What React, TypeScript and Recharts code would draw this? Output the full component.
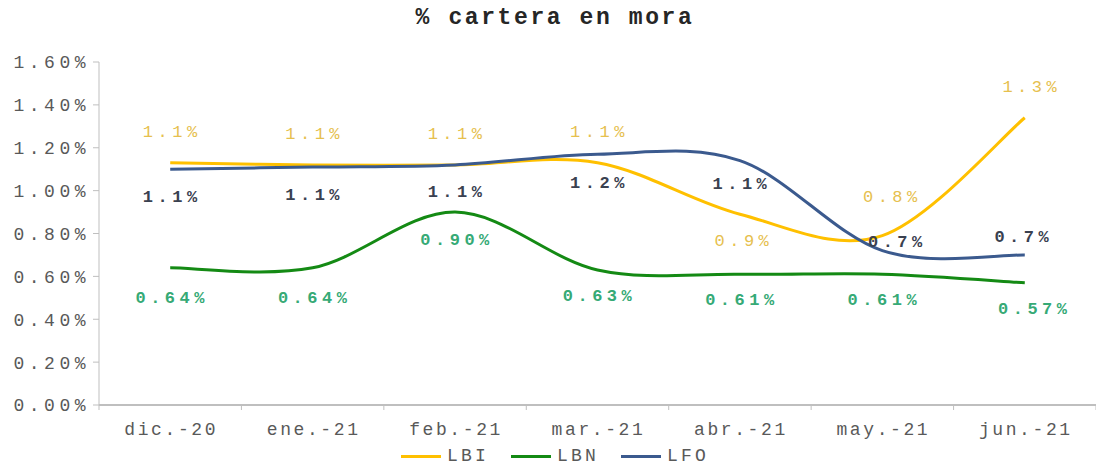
import React from 'react';
import { LineChart, Line, XAxis, YAxis, LabelList } from 'recharts';

const categories = ['dic.-20', 'ene.-21', 'feb.-21', 'mar.-21', 'abr.-21', 'may.-21', 'jun.-21'];
const lbiValues = [1.13, 1.12, 1.12, 1.13, 0.89, 0.79, 1.34];
const lbnValues = [0.64, 0.64, 0.9, 0.63, 0.61, 0.61, 0.57];
const lfoValues = [1.1, 1.11, 1.12, 1.17, 1.14, 0.72, 0.7];
const yTicks = [0, 0.2, 0.4, 0.6, 0.8, 1.0, 1.2, 1.4, 1.6];

// label placement (dx, dy) per point — style only
const lbiLabelPos = [[0, -30], [0, -30], [0, -30], [0, -30], [2, 27], [8, -38], [5, -30]];
const lfoLabelPos = [[0, 28], [0, 28], [0, 28], [0, 29], [0, 24], [13, -8], [-3, -17]];
const lbnLabelPos = [[0, 31], [0, 31], [0, 28], [0, 27], [0, 26], [0, 26], [8, 27]];

const data = categories.map((name, i) => ({
  idx: i,
  name,
  LBI: lbiValues[i],
  LBN: lbnValues[i],
  LFO: lfoValues[i],
}));

const xTicks: number[] = [];
for (let i = 0; i <= categories.length * 2; i++) xTicks.push(-0.5 + i * 0.5);

const FONT = '"Liberation Mono", "Courier New", monospace';
const AXIS_COLOR = '#BFBFBF';

// Excel-like smoothed line (Catmull-Rom style Bezier)
const excelSmooth = (context: any) => {
  let pts: number[][] = [];
  return {
    areaStart() {},
    areaEnd() {},
    lineStart() {
      pts = [];
    },
    lineEnd() {
      if (!pts.length) return;
      context.moveTo(pts[0][0], pts[0][1]);
      for (let i = 0; i < pts.length - 1; i++) {
        const p0 = pts[i - 1] || pts[i];
        const p1 = pts[i];
        const p2 = pts[i + 1];
        const p3 = pts[i + 2] || p2;
        const c1x = p1[0] + (p2[0] - p0[0]) / 6;
        const c1y = p1[1] + (p2[1] - p0[1]) / 6;
        const c2x = p2[0] - (p3[0] - p1[0]) / 6;
        const c2y = p2[1] - (p3[1] - p1[1]) / 6;
        context.bezierCurveTo(c1x, c1y, c2x, c2y, p2[0], p2[1]);
      }
    },
    point(x: number, y: number) {
      pts.push([+x, +y]);
    },
  };
};

const series = [
  { key: 'LBI', color: '#FFC000', labelColor: '#E6C04E', weight: 400, decimals: 1, pos: lbiLabelPos },
  { key: 'LBN', color: '#148A14', labelColor: '#36AA76', weight: 700, decimals: 2, pos: lbnLabelPos },
  { key: 'LFO', color: '#3B5A8E', labelColor: '#3A4150', weight: 700, decimals: 1, pos: lfoLabelPos },
];

const makeLabel = (s: any) => (props: any) => {
  const { x, y, value, index } = props;
  const p = s.pos[index] || [0, 0];
  return (
    <text
      x={x + p[0] + 2}
      y={y + p[1]}
      textAnchor="middle"
      dominantBaseline="central"
      fontFamily={FONT}
      fontSize={17}
      fontWeight={s.weight}
      letterSpacing={4.5}
      fill={s.labelColor}
    >
      {`${Number(value).toFixed(s.decimals)}%`}
    </text>
  );
};

const XTick = (props: any) => {
  const { x, y, payload } = props;
  const v = payload.value;
  if (Number.isInteger(v)) {
    return (
      <text
        x={x + 1}
        y={y + 25}
        textAnchor="middle"
        dominantBaseline="central"
        fontFamily={FONT}
        fontSize={18}
        letterSpacing={2.6}
        fill="#595959"
      >
        {categories[v]}
      </text>
    );
  }
  return <line x1={x} x2={x} y1={y} y2={y + 5} stroke={AXIS_COLOR} strokeWidth={1} />;
};

export default function App() {
  return (
    <div style={{ position: 'absolute', left: 0, top: 0, width: 1096, height: 471, background: '#fff' }}>
      <div
        style={{
          position: 'absolute',
          left: 0,
          top: 5,
          width: 1110,
          textAlign: 'center',
          fontFamily: FONT,
          fontWeight: 700,
          fontSize: 23,
          letterSpacing: 2.6,
          color: '#262626',
          lineHeight: '26px',
        }}
      >
        % cartera en mora
      </div>
      <LineChart width={1096} height={471} data={data} margin={{ top: 62, right: 0, left: 0, bottom: 0 }}>
        <XAxis
          dataKey="idx"
          type="number"
          domain={[-0.5, 6.5]}
          ticks={xTicks}
          interval={0}
          tick={<XTick />}
          tickLine={false}
          tickSize={0}
          tickMargin={0}
          height={66}
          stroke={AXIS_COLOR}
          strokeWidth={2}
          allowDataOverflow
        />
        <YAxis
          type="number"
          domain={[0, 1.6]}
          ticks={yTicks}
          interval={0}
          width={99}
          tickSize={6}
          tickMargin={3}
          stroke={AXIS_COLOR}
          tick={{ fontFamily: FONT, fontSize: 18, fill: '#595959', letterSpacing: 4.5 }}
          tickFormatter={(v: number) => `${v.toFixed(2)}%`}
        />
        {series.map((s) => (
          <Line
            key={s.key}
            dataKey={s.key}
            type={excelSmooth as any}
            stroke={s.color}
            strokeWidth={3}
            dot={false}
            activeDot={false}
            isAnimationActive={false}
          >
            <LabelList dataKey={s.key} content={makeLabel(s)} />
          </Line>
        ))}
      </LineChart>
      <div
        style={{
          position: 'absolute',
          left: 0,
          top: 446,
          width: 1110,
          display: 'flex',
          justifyContent: 'center',
          alignItems: 'center',
          gap: 22,
          fontFamily: FONT,
          fontSize: 18,
          letterSpacing: 3.2,
          color: '#595959',
        }}
      >
        {series.map((s) => (
          <div key={s.key} style={{ display: 'flex', alignItems: 'center', gap: 6 }}>
            <div style={{ width: 40, height: 3, background: s.color }} />
            <span>{s.key}</span>
          </div>
        ))}
      </div>
    </div>
  );
}
